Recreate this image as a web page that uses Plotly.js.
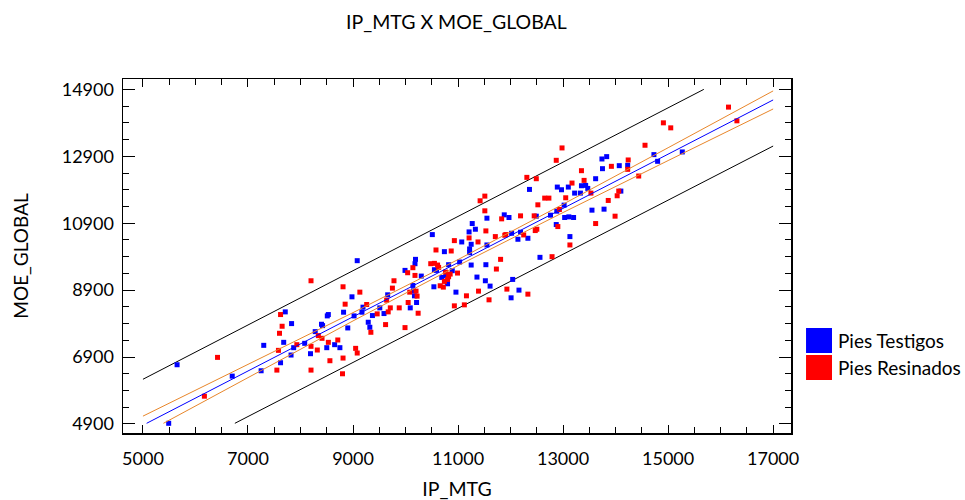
<!DOCTYPE html>
<html>
<head>
<meta charset="utf-8">
<script src="https://cdn.plot.ly/plotly-3.0.1.min.js"></script>
<style>html,body{margin:0;padding:0;background:#fff;}#chart{width:965px;height:500px;}</style>
</head>
<body>
<div id="chart"></div>
<script>
// ---- Data ----
const seriesNames = ["Pies Testigos", "Pies Resinados"];

const testigosX = [5650,5490,6700,7250,7300,7620,7680,7710,7830,7820,7870,8080,8190,8280,8400,8420,8500,8510,8530,8650,
  8750,8820,8900,8980,9020,9080,9170,9190,9290,9320,9370,9510,9590,9660,9990,10090,10140,10150,10180,10190,
  10170,10210,10300,10510,10550,10540,10590,10690,10740,10770,10800,10820,10890,10960,11030,11070,11210,11220,11220,11250,
  11270,11250,11330,11360,11530,11520,11550,11550,11610,11880,11970,12010,12020,12040,12140,12160,12190,12330,12360,12560,
  12760,12870,12890,12880,12970,13030,13100,13110,13130,13020,13200,13220,13330,13350,13430,13470,13550,13620,13750,13740,
  13780,13830,14070,14100,14230,14730,14800,15270,12490];
const testigosY = [6670,4920,6330,6490,7250,6730,7340,8250,7900,6960,7180,7310,7000,7660,7880,7840,7180,8130,8170,7270,
  7180,8240,7770,8700,8130,9780,8240,8390,7940,7790,8140,8370,8200,8760,9490,8370,9040,8880,9690,9820,
  8730,8530,9320,10560,9510,9000,9490,9280,10050,9330,9090,9660,9480,8840,9740,10340,10640,10130,10020,10270,
  10890,9650,10720,9290,9660,9180,10250,11050,9020,11150,11070,8670,10600,9220,10420,8900,10630,10450,11910,9880,
  11140,10860,11980,11260,11900,11070,11980,11090,10500,11440,11070,11800,11800,12020,12030,11940,11290,12230,12530,12820,
  11320,12890,12620,11860,12630,12950,12750,13030,11110];

const resinadosX = [6170,6420,7550,7580,7600,7620,7650,7930,8200,8200,8200,8320,8340,8410,8530,8560,8710,8810,8810,8800,
  8850,9050,9080,9130,9260,9460,9620,9640,9670,9710,9750,9780,9880,9990,10040,10050,10080,10140,10180,10200,
  10220,10240,10480,10550,10580,10610,10630,10660,10720,10740,10760,10800,10820,10850,10870,10930,10990,10930,11120,11160,
  11210,11380,11390,11420,11510,11510,11530,11590,11710,11730,11810,11830,11890,11910,11930,12190,12250,12310,12330,12450,
  12470,12490,12500,12520,12650,12730,12790,12870,12980,12900,12930,13050,13130,13170,13350,13400,13530,13620,13860,13920,
  13990,14030,14060,14230,14240,14440,14560,14910,15050,16150,16310,9340];
const resinadosY = [5730,6890,6510,7100,7610,8170,7820,7270,9180,7220,6510,7110,7540,7460,7340,6790,7410,9000,6870,6400,
  8480,7160,7020,8840,8470,8190,7870,8600,8250,8370,8960,9180,8370,7780,9420,8530,8840,9570,9340,8870,
  8720,8210,9690,9700,10100,9650,9580,9030,8990,9160,9440,9220,9300,9380,10070,10380,9410,8430,8460,8730,
  10460,10340,8870,11570,11710,11270,10670,8610,10500,9530,9820,11030,10540,10560,8930,11120,10550,12270,8780,11120,
  10680,12230,10720,11450,11650,11650,9900,12780,13150,10800,11310,11660,10250,12100,12470,12180,11800,10890,11580,12600,
  11110,11720,11860,12510,12790,12310,13230,13900,13750,14370,13960,7640];

// Fitted line, confidence limits and prediction limits
const fitX = [5070, 11000, 17000];
const fitY = [4920, 9724, 14584];
const confX = [5000, 7000, 9000, 11000, 13000, 15000, 17000];
const confUpperY = [5134, 6676, 8228, 9814, 11468, 13156, 14854];
const confLowX = [5390, 7000, 9000, 11000, 13000, 15000, 17000];
const confLowerY = [4920, 6292, 7980, 9634, 11220, 12772, 14314];
const predUpperX = [5000, 15680];
const predUpperY = [6236, 14900];
const predLowerX = [6750, 17000];
const predLowerY = [4920, 13206];

const xTicks = [5000, 7000, 9000, 11000, 13000, 15000, 17000];
const yTicks = [4900, 6900, 8900, 10900, 12900, 14900];

const BLUE = "#0000FF", RED = "#FF0000", ORANGE = "#E8862A";
const FONT = "Lato, 'Open Sans', sans-serif";

function lineTrace(x, y, color) {
  return {x: x, y: y, type: "scatter", mode: "lines", line: {color: color, width: 1}, hoverinfo: "skip", showlegend: false};
}

const traces = [
  lineTrace(predUpperX, predUpperY, "#000000"),
  lineTrace(predLowerX, predLowerY, "#000000"),
  {x: testigosX, y: testigosY, type: "scatter", mode: "markers", name: seriesNames[0],
   marker: {symbol: "square", size: 5, color: BLUE}, showlegend: false},
  {x: resinadosX, y: resinadosY, type: "scatter", mode: "markers", name: seriesNames[1],
   marker: {symbol: "square", size: 5, color: RED}, showlegend: false},
  lineTrace(confX, confUpperY, ORANGE),
  lineTrace(confLowX, confLowerY, ORANGE),
  lineTrace(fitX, fitY, BLUE)
];

const axisCommon = {
  showgrid: false, zeroline: false, showline: true, linecolor: "#000", linewidth: 1.5,
  mirror: "ticks", ticks: "inside", tickcolor: "#000", tickwidth: 1,
  tickfont: {family: FONT, size: 18, color: "#000"}
};

const layout = {
  width: 965, height: 500,
  paper_bgcolor: "#fff", plot_bgcolor: "#fff",
  margin: {l: 123, r: 174, t: 79, b: 67},
  title: {text: "IP_MTG X MOE_GLOBAL", x: 0.473, xanchor: "center", y: 0.955, yanchor: "middle",
          font: {family: FONT, size: 19.5, color: "#000"}},
  xaxis: Object.assign({}, axisCommon, {
    range: [4620, 17340], tickmode: "array", tickvals: xTicks, ticktext: xTicks.map(String), ticklen: 8,
    minor: {dtick: 500, tick0: 5000, ticks: "inside", ticklen: 6, tickcolor: "#000", showgrid: false},
    ticklabelstandoff: 9,
    title: {text: "IP_MTG", font: {family: FONT, size: 19.5, color: "#000"}, standoff: 14}
  }),
  yaxis: Object.assign({}, axisCommon, {
    range: [4630, 15210], tickmode: "array", tickvals: yTicks, ticktext: yTicks.map(String), ticklen: 12,
    minor: {dtick: 500, tick0: 4900, ticks: "inside", ticklen: 6, tickcolor: "#000", showgrid: false},
    ticklabelstandoff: 4,
    title: {text: "MOE_GLOBAL", font: {family: FONT, size: 19, color: "#000"}, standoff: 28}
  }),
  showlegend: false,
  shapes: [
    {type: "rect", xref: "paper", yref: "paper", x0: 1.0225, x1: 1.0614, y0: 0.226, y1: 0.2966,
     fillcolor: BLUE, line: {width: 0}},
    {type: "rect", xref: "paper", yref: "paper", x0: 1.0225, x1: 1.0614, y0: 0.1497, y1: 0.2203,
     fillcolor: RED, line: {width: 0}}
  ],
  annotations: [
    {text: seriesNames[0], xref: "paper", yref: "paper", x: 1.067, y: 0.2627, xanchor: "left", yanchor: "middle",
     showarrow: false, font: {family: FONT, size: 19, color: "#000"}},
    {text: seriesNames[1], xref: "paper", yref: "paper", x: 1.067, y: 0.1864, xanchor: "left", yanchor: "middle",
     showarrow: false, font: {family: FONT, size: 19, color: "#000"}}
  ]
};

Plotly.newPlot("chart", traces, layout, {displayModeBar: false, staticPlot: true});
</script>
</body>
</html>
